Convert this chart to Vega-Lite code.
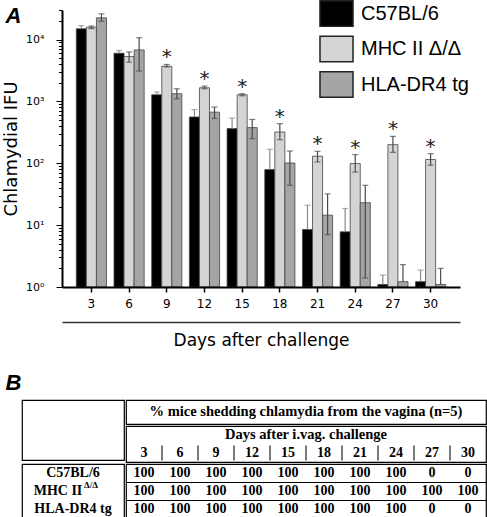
{
  "$schema": "https://vega.github.io/schema/vega-lite/v6.json",
  "background": "white",
  "padding": {"left": 2, "top": 0, "right": 0, "bottom": 0},
  "config": {"view": {"stroke": null}, "concat": {"spacing": 0}, "axis": {"labelColor": "black", "titleColor": "black"}},
  "datasets": {
    "fig": [
      {"day": 3, "strain": "C57BL/6", "value": 14900, "lo": 14900, "hi": 16800, "sig": false},
      {"day": 3, "strain": "MHC II Δ/Δ", "value": 15800, "lo": 15000, "hi": 16500, "sig": false},
      {"day": 3, "strain": "HLA-DR4 tg", "value": 22400, "lo": 19700, "hi": 26000, "sig": false},
      {"day": 6, "strain": "C57BL/6", "value": 6000, "lo": 6000, "hi": 6650, "sig": false},
      {"day": 6, "strain": "MHC II Δ/Δ", "value": 5300, "lo": 4300, "hi": 6300, "sig": false},
      {"day": 6, "strain": "HLA-DR4 tg", "value": 6800, "lo": 3100, "hi": 10700, "sig": false},
      {"day": 9, "strain": "C57BL/6", "value": 1280, "lo": 1280, "hi": 1420, "sig": false},
      {"day": 9, "strain": "MHC II Δ/Δ", "value": 3700, "lo": 3600, "hi": 3950, "sig": true},
      {"day": 9, "strain": "HLA-DR4 tg", "value": 1330, "lo": 1100, "hi": 1600, "sig": false},
      {"day": 12, "strain": "C57BL/6", "value": 560, "lo": 560, "hi": 735, "sig": false},
      {"day": 12, "strain": "MHC II Δ/Δ", "value": 1660, "lo": 1600, "hi": 1770, "sig": true},
      {"day": 12, "strain": "HLA-DR4 tg", "value": 670, "lo": 530, "hi": 810, "sig": false},
      {"day": 15, "strain": "C57BL/6", "value": 363, "lo": 363, "hi": 540, "sig": false},
      {"day": 15, "strain": "MHC II Δ/Δ", "value": 1280, "lo": 1230, "hi": 1330, "sig": true},
      {"day": 15, "strain": "HLA-DR4 tg", "value": 377, "lo": 250, "hi": 510, "sig": false},
      {"day": 18, "strain": "C57BL/6", "value": 79, "lo": 79, "hi": 168, "sig": false},
      {"day": 18, "strain": "MHC II Δ/Δ", "value": 320, "lo": 240, "hi": 437, "sig": true},
      {"day": 18, "strain": "HLA-DR4 tg", "value": 101, "lo": 44, "hi": 158, "sig": false},
      {"day": 21, "strain": "C57BL/6", "value": 8.5, "lo": 8.5, "hi": 21, "sig": false},
      {"day": 21, "strain": "MHC II Δ/Δ", "value": 130, "lo": 105, "hi": 156, "sig": true},
      {"day": 21, "strain": "HLA-DR4 tg", "value": 14.5, "lo": 7, "hi": 32, "sig": false},
      {"day": 24, "strain": "C57BL/6", "value": 7.8, "lo": 7.8, "hi": 18.6, "sig": false},
      {"day": 24, "strain": "MHC II Δ/Δ", "value": 99, "lo": 72, "hi": 138, "sig": true},
      {"day": 24, "strain": "HLA-DR4 tg", "value": 23, "lo": 1.4, "hi": 44, "sig": false},
      {"day": 27, "strain": "C57BL/6", "value": 1.1, "lo": 1.1, "hi": 1.56, "sig": false},
      {"day": 27, "strain": "MHC II Δ/Δ", "value": 200, "lo": 150, "hi": 272, "sig": true},
      {"day": 27, "strain": "HLA-DR4 tg", "value": 1.22, "lo": 1.22, "hi": 2.3, "sig": false},
      {"day": 30, "strain": "C57BL/6", "value": 1.22, "lo": 1.22, "hi": 1.88, "sig": false},
      {"day": 30, "strain": "MHC II Δ/Δ", "value": 115, "lo": 93, "hi": 143, "sig": true},
      {"day": 30, "strain": "HLA-DR4 tg", "value": 1.1, "lo": 1.1, "hi": 2.0, "sig": false}
    ],
    "tbl": [
      {"strain": "C57BL/6", "day": 3, "pct": 100}, {"strain": "C57BL/6", "day": 6, "pct": 100},
      {"strain": "C57BL/6", "day": 9, "pct": 100}, {"strain": "C57BL/6", "day": 12, "pct": 100},
      {"strain": "C57BL/6", "day": 15, "pct": 100}, {"strain": "C57BL/6", "day": 18, "pct": 100},
      {"strain": "C57BL/6", "day": 21, "pct": 100}, {"strain": "C57BL/6", "day": 24, "pct": 100},
      {"strain": "C57BL/6", "day": 27, "pct": 0}, {"strain": "C57BL/6", "day": 30, "pct": 0},
      {"strain": "MHC II Δ/Δ", "day": 3, "pct": 100}, {"strain": "MHC II Δ/Δ", "day": 6, "pct": 100},
      {"strain": "MHC II Δ/Δ", "day": 9, "pct": 100}, {"strain": "MHC II Δ/Δ", "day": 12, "pct": 100},
      {"strain": "MHC II Δ/Δ", "day": 15, "pct": 100}, {"strain": "MHC II Δ/Δ", "day": 18, "pct": 100},
      {"strain": "MHC II Δ/Δ", "day": 21, "pct": 100}, {"strain": "MHC II Δ/Δ", "day": 24, "pct": 100},
      {"strain": "MHC II Δ/Δ", "day": 27, "pct": 100}, {"strain": "MHC II Δ/Δ", "day": 30, "pct": 100},
      {"strain": "HLA-DR4 tg", "day": 3, "pct": 100}, {"strain": "HLA-DR4 tg", "day": 6, "pct": 100},
      {"strain": "HLA-DR4 tg", "day": 9, "pct": 100}, {"strain": "HLA-DR4 tg", "day": 12, "pct": 100},
      {"strain": "HLA-DR4 tg", "day": 15, "pct": 100}, {"strain": "HLA-DR4 tg", "day": 18, "pct": 100},
      {"strain": "HLA-DR4 tg", "day": 21, "pct": 100}, {"strain": "HLA-DR4 tg", "day": 24, "pct": 100},
      {"strain": "HLA-DR4 tg", "day": 27, "pct": 0}, {"strain": "HLA-DR4 tg", "day": 30, "pct": 0}
    ],
    "strains": [
      {"strain": "C57BL/6", "label": "C57BL/6", "sup": null},
      {"strain": "MHC II Δ/Δ", "label": "MHC II", "sup": "Δ/Δ"},
      {"strain": "HLA-DR4 tg", "label": "HLA-DR4 tg", "sup": null}
    ]
  },
  "spacing": 24,
  "vconcat": [
    {
      "spacing": 0,
      "bounds": "flush",
      "hconcat": [
        {
          "width": 40, "height": 10,
          "data": {"values": [{"t": ""}]},
          "mark": {"type": "text"},
          "encoding": {"text": {"field": "t"}}
        },
        {
          "width": 398,
          "height": 277,
          "title": {"text": "A", "anchor": "start", "frame": "bounds", "orient": "top", "offset": -24, "dx": 3, "font": "Liberation Sans", "fontSize": 22, "fontWeight": "bold", "fontStyle": "italic", "color": "black"},
          "data": {"name": "fig"},
          "resolve": {"axis": {"x": "independent"}},
          "layer": [
            {
              "mark": {"type": "bar", "stroke": "#444", "strokeWidth": 0.8},
              "encoding": {
                "x": {"field": "day", "type": "ordinal", "scale": {"paddingInner": 0.2, "paddingOuter": 0.38},
                  "axis": {"title": null, "labelAngle": 0, "labelFont": "DejaVu Sans", "labelFontSize": 12, "labelPadding": 6, "tickSize": 5, "tickColor": "black", "tickWidth": 1.5, "domainColor": "black", "domainWidth": 2, "grid": false, "zindex": 1}},
                "xOffset": {"field": "strain", "type": "nominal", "scale": {"domain": ["C57BL/6", "MHC II Δ/Δ", "HLA-DR4 tg"], "paddingInner": 0, "paddingOuter": 0}},
                "y": {"field": "value", "type": "quantitative", "title": "Chlamydial IFU",
                  "scale": {"type": "log", "domain": [1, 30000], "nice": false},
                  "axis": {"values": [1,2,3,4,5,6,7,8,9,10,20,30,40,50,60,70,80,90,100,200,300,400,500,600,700,800,900,1000,2000,3000,4000,5000,6000,7000,8000,9000,10000,20000,30000],
                    "labelExpr": "datum.value==1?'10⁰':datum.value==10?'10¹':datum.value==100?'10²':datum.value==1000?'10³':datum.value==10000?'10⁴':''",
                    "labelFont": "DejaVu Sans", "labelFontSize": 11, "labelPadding": 12, "labelOverlap": false,
                    "tickColor": "black", "tickSize": {"condition": {"test": "indexof([1,10,100,1000,10000], datum.value) >= 0", "value": 6}, "value": 3.5},
                    "domainColor": "black", "domainWidth": 2, "grid": false,
                    "titleFont": "DejaVu Sans", "titleFontSize": 18, "titleFontWeight": "normal", "titlePadding": 5, "zindex": 1}},
                "y2": {"datum": 1},
                "color": {"field": "strain", "type": "nominal",
                  "scale": {"domain": ["C57BL/6", "MHC II Δ/Δ", "HLA-DR4 tg"], "range": ["#000000", "#d4d4d4", "#a5a5a5"]},
                  "legend": {"orient": "none", "legendX": 301, "legendY": -10, "title": null, "padding": 0,
                    "symbolType": "M-1.3,-1H1.3V1H-1.3Z", "symbolSize": 645, "symbolStrokeColor": "#222", "symbolStrokeWidth": 1.5,
                    "labelFont": "Liberation Sans", "labelFontSize": 20, "labelOffset": 11, "rowPadding": 2.5, "labelColor": "black",
                    "symbolOpacity": 1,
                    "encode": {"symbols": {"update": {"stroke": {"value": "#222"}, "strokeWidth": {"value": 1.5}}}}}}
              }
            },
            {
              "mark": {"type": "rule", "strokeWidth": 1.2},
              "encoding": {
                "x": {"field": "day", "type": "ordinal",
                  "axis": {"orient": "bottom", "offset": 35, "labels": false, "ticks": false, "domain": true, "domainColor": "#333", "domainWidth": 1.5, "grid": false,
                    "title": "Days after challenge", "titleFont": "DejaVu Sans", "titleFontSize": 17, "titleFontWeight": "normal", "titlePadding": 10}},
                "xOffset": {"field": "strain", "type": "nominal"},
                "y": {"field": "lo", "type": "quantitative", "title": "Chlamydial IFU"},
                "y2": {"field": "hi"},
                "color": {"condition": {"test": "datum.strain == 'C57BL/6'", "value": "#8a8a8a"}, "value": "#4a4a4a"}
              }
            },
            {
              "mark": {"type": "tick", "orient": "horizontal", "size": 6, "thickness": 1.2},
              "encoding": {
                "x": {"field": "day", "type": "ordinal", "axis": null},
                "xOffset": {"field": "strain", "type": "nominal"},
                "y": {"field": "hi", "type": "quantitative", "title": "Chlamydial IFU"},
                "color": {"condition": {"test": "datum.strain == 'C57BL/6'", "value": "#8a8a8a"}, "value": "#4a4a4a"}
              }
            },
            {
              "transform": [{"filter": "datum.lo < datum.value"}],
              "mark": {"type": "tick", "orient": "horizontal", "size": 6, "thickness": 1.2, "color": "#4a4a4a"},
              "encoding": {
                "x": {"field": "day", "type": "ordinal", "axis": null},
                "xOffset": {"field": "strain", "type": "nominal"},
                "y": {"field": "lo", "type": "quantitative", "title": "Chlamydial IFU"}
              }
            },
            {
              "transform": [{"filter": "datum.sig"}],
              "mark": {"type": "text", "text": "*", "font": "DejaVu Sans", "fontSize": 20, "baseline": "alphabetic", "dy": -1, "color": "#222"},
              "encoding": {
                "x": {"field": "day", "type": "ordinal", "axis": null},
                "xOffset": {"field": "strain", "type": "nominal"},
                "y": {"field": "hi", "type": "quantitative", "title": "Chlamydial IFU"}
              }
            }
          ]
        }
      ]
    },
    {
      "title": {"text": "B", "anchor": "start", "frame": "bounds", "offset": 4, "dx": -16, "font": "Liberation Sans", "fontSize": 22, "fontWeight": "bold", "fontStyle": "italic", "color": "black"},
      "spacing": 0,
      "vconcat": [
        {
          "spacing": 0,
          "hconcat": [
            {
              "width": 102, "height": 60,
              "view": {"stroke": "black", "strokeWidth": 1.2},
              "data": {"values": [{"t": ""}]},
              "mark": {"type": "text"},
              "encoding": {"text": {"field": "t"}}
            },
            {
              "spacing": 0,
              "vconcat": [
                {
                  "width": 360, "height": 24,
                  "view": {"stroke": "black", "strokeWidth": 1.2},
                  "data": {"values": [{"t": "% mice shedding chlamydia from the vagina (n=5)"}]},
                  "mark": {"type": "text", "font": "Liberation Serif", "fontSize": 14.5, "fontWeight": "bold", "color": "black"},
                  "encoding": {"text": {"field": "t"}}
                },
                {
                  "width": 360, "height": 36,
                  "view": {"stroke": "black", "strokeWidth": 1.2},
                  "layer": [
                    {
                      "data": {"values": [{"t": "Days after i.vag. challenge", "row": "title"}]},
                      "mark": {"type": "text", "font": "Liberation Serif", "fontSize": 14.5, "fontWeight": "bold", "color": "black"},
                      "encoding": {
                        "y": {"field": "row", "type": "nominal", "scale": {"domain": ["title", "days"], "paddingInner": 0, "paddingOuter": 0}, "axis": null},
                        "text": {"field": "t"}
                      }
                    },
                    {
                      "data": {"name": "tbl"},
                      "transform": [{"filter": "datum.strain == 'C57BL/6'"}],
                      "mark": {"type": "text", "font": "Liberation Serif", "fontSize": 14, "fontWeight": "bold", "color": "black"},
                      "encoding": {
                        "x": {"field": "day", "type": "ordinal", "scale": {"type": "band", "paddingInner": 0, "paddingOuter": 0}, "axis": null},
                        "y": {"datum": "days", "type": "nominal"},
                        "text": {"field": "day"}
                      }
                    },
                    {
                      "data": {"name": "tbl"},
                      "transform": [{"filter": "datum.strain == 'C57BL/6' && datum.day > 3"}],
                      "mark": {"type": "tick", "orient": "vertical", "size": 15, "thickness": 1.5, "color": "black"},
                      "encoding": {
                        "x": {"field": "day", "type": "ordinal", "bandPosition": 0},
                        "y": {"datum": "days", "type": "nominal"}
                      }
                    }
                  ]
                }
              ]
            }
          ]
        },
        {
          "spacing": 0,
          "hconcat": [
            {
              "width": 102, "height": 54,
              "view": {"stroke": "black", "strokeWidth": 1.2},
              "data": {"name": "strains"},
              "encoding": {
                "y": {"field": "strain", "type": "nominal", "scale": {"type": "band", "domain": ["C57BL/6", "MHC II Δ/Δ", "HLA-DR4 tg"], "paddingInner": 0, "paddingOuter": 0}, "axis": null}
              },
              "layer": [
                {
                  "transform": [{"filter": "!isValid(datum.sup)"}],
                  "mark": {"type": "text", "font": "Liberation Serif", "fontSize": 14, "fontWeight": "bold", "color": "black"},
                  "encoding": {"text": {"field": "label"}}
                },
                {
                  "transform": [{"filter": "isValid(datum.sup)"}],
                  "mark": {"type": "text", "font": "Liberation Serif", "fontSize": 14, "fontWeight": "bold", "color": "black", "dx": -15},
                  "encoding": {"text": {"field": "label"}}
                },
                {
                  "transform": [{"filter": "isValid(datum.sup)"}],
                  "mark": {"type": "text", "font": "Liberation Serif", "fontSize": 9, "fontWeight": "bold", "color": "black", "align": "left", "dx": 11, "dy": -6},
                  "encoding": {"text": {"field": "sup"}}
                }
              ]
            },
            {
              "width": 360, "height": 54,
              "view": {"stroke": "black", "strokeWidth": 1.2},
              "data": {"name": "tbl"},
              "mark": {"type": "text", "font": "Liberation Serif", "fontSize": 14, "fontWeight": "bold", "color": "black"},
              "encoding": {
                "x": {"field": "day", "type": "ordinal", "scale": {"type": "band", "paddingInner": 0, "paddingOuter": 0}, "axis": null},
                "y": {"field": "strain", "type": "nominal", "scale": {"type": "band", "domain": ["C57BL/6", "MHC II Δ/Δ", "HLA-DR4 tg"], "paddingInner": 0, "paddingOuter": 0},
                  "axis": {"grid": true, "gridColor": "black", "gridWidth": 1.2, "bandPosition": 0, "labels": false, "ticks": false, "domain": false, "title": null}},
                "text": {"field": "pct"}
              }
            }
          ]
        }
      ]
    }
  ]
}
